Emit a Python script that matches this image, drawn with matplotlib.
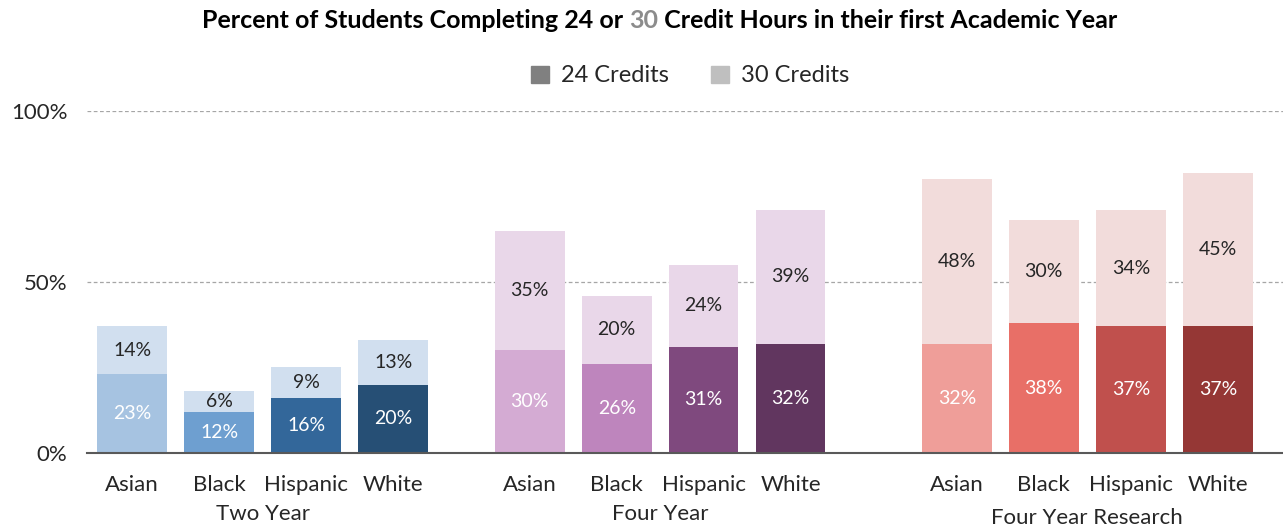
import matplotlib

matplotlib.use("Agg")
import matplotlib.pyplot as plt
import numpy as np

plt.rcParams["font.family"] = ["Lato", "DejaVu Sans"]

groups = ["Two Year", "Four Year", "Four Year Research"]
races = ["Asian", "Black", "Hispanic", "White"]

credits_24 = {
    "Two Year": [23, 12, 16, 20],
    "Four Year": [30, 26, 31, 32],
    "Four Year Research": [32, 38, 37, 37],
}
credits_30 = {
    "Two Year": [14, 6, 9, 13],
    "Four Year": [35, 20, 24, 39],
    "Four Year Research": [48, 30, 34, 45],
}

dark_colors = {
    "Two Year": ["#A6C3E1", "#6E9FD0", "#33679A", "#264F75"],
    "Four Year": ["#D4ABD3", "#BE85BD", "#7F497E", "#61365F"],
    "Four Year Research": ["#EF9E99", "#E86F67", "#C0504D", "#953735"],
}
light_colors = {
    "Two Year": "#D1DFEF",
    "Four Year": "#E9D7E9",
    "Four Year Research": "#F2DCDB",
}

# where each group starts on the x axis (excel leaves uneven gaps)
group_starts = [0, 4.57, 9.48]
bar_width = 0.8

fig = plt.figure(figsize=(12.83, 5.32), dpi=100)
ax = fig.add_axes([87 / 1283, (532 - 453) / 532, 1196 / 1283, (453 - 111) / 532])
ax.set_xlim(-0.52, 13.23)
ax.set_ylim(0, 100)

for yv in (50, 100):
    ax.axhline(yv, color="#A6A6A6", linestyle=(0, (3, 2)), linewidth=0.9, zorder=0)

for g, start in zip(groups, group_starts):
    xs = start + np.arange(len(races))
    bottoms = np.array(credits_24[g])
    tops = np.array(credits_30[g])
    ax.bar(xs, bottoms, width=bar_width, color=dark_colors[g], zorder=2)
    ax.bar(xs, tops, width=bar_width, bottom=bottoms, color=light_colors[g], zorder=2)
    for x, b, t, race in zip(xs, bottoms, tops, races):
        ax.text(x, b / 2, f"{b}%", ha="center", va="center", color="white", fontsize=14, zorder=3)
        ax.text(x, b + t / 2, f"{t}%", ha="center", va="center", color="#262626", fontsize=14, zorder=3)
        ax.text(x, -9.5, race, ha="center", va="center", color="#262626", fontsize=16, clip_on=False)
    ax.text(xs.mean(), -17.8 if g != "Four Year Research" else -19, g, ha="center", va="center",
            color="#262626", fontsize=16, clip_on=False)

ax.set_yticks([0, 50, 100])
ax.set_yticklabels(["0%", "50%", "100%"], fontsize=16, color="#262626")
ax.set_xticks([])
ax.tick_params(axis="y", length=0, pad=14)
for side in ("top", "right", "left"):
    ax.spines[side].set_visible(False)
ax.spines["bottom"].set_color("#595959")
ax.spines["bottom"].set_linewidth(1.5)

# title with "30" in gray, built from pieces
pieces = [
    ("Percent of Students Completing 24 or ", "#000000"),
    ("30", "#8C8C8C"),
    (" Credit Hours in their first Academic Year", "#000000"),
]
fig.canvas.draw()
renderer = fig.canvas.get_renderer()
texts = []
x = 0
for s, c in pieces:
    t = fig.text(x, 1 - 20 / 532, s, color=c, fontsize=18, fontweight="bold", ha="left", va="center")
    fig.canvas.draw()
    w = t.get_window_extent(renderer).width / fig.bbox.width
    texts.append((t, w))
    x += w
total = sum(w for _, w in texts)
x = 660 / 1283 - total / 2
for t, w in texts:
    t.set_x(x)
    x += w

# legend
handles = [
    plt.Rectangle((0, 0), 1, 1, color="#808080"),
    plt.Rectangle((0, 0), 1, 1, color="#BFBFBF"),
]
fig.legend(handles, ["24 Credits", "30 Credits"], loc="center", bbox_to_anchor=(690 / 1283, 1 - 76 / 532),
           ncol=2, frameon=False, fontsize=17, handlelength=0.75, handleheight=0.75,
           handletextpad=0.5, columnspacing=1.8, labelcolor="#262626")

fig.savefig("out.png", dpi=100)
